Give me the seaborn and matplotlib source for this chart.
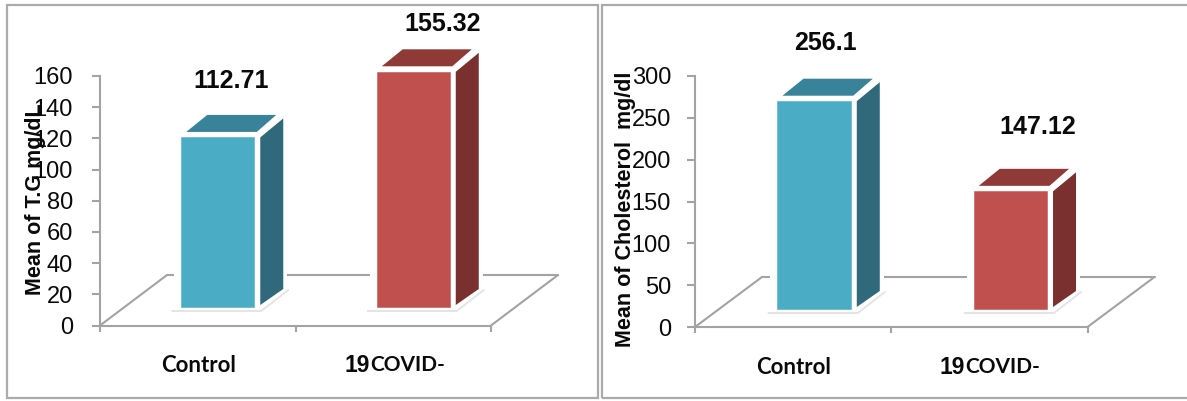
import matplotlib
matplotlib.use("Agg")
import matplotlib.pyplot as plt
import pandas as pd
import seaborn as sns
from matplotlib.lines import Line2D
from matplotlib.patches import Polygon, Rectangle
from matplotlib.transforms import IdentityTransform

WIDTH, HEIGHT = 1187, 401

groups = ["Control", "19COVID-"]
tg_values = [112.71, 155.32]
chol_values = [256.1, 147.12]
tg_ticks = [0, 20, 40, 60, 80, 100, 120, 140, 160]
chol_ticks = [0, 50, 100, 150, 200, 250, 300]
tg_title = "Mean of T.G mg/dL"
chol_title = "Mean of Cholesterol  mg/dl"

FRONT = ["#4BACC6", "#C0504D"]
SIDE = ["#31697C", "#7A302E"]
TOP = ["#38839A", "#8F3A37"]
GREY = "#A3A3A3"
INK = "#0A0A0A"

sns.set_theme(style="white")
plt.rcParams["font.family"] = ["Liberation Sans", "DejaVu Sans"]

fig = plt.figure(figsize=(WIDTH / 100, HEIGHT / 100), dpi=100, facecolor="white")


def fx(x):
    return x / WIDTH


def fy(y):
    return 1 - y / HEIGHT


def box(left, right, top, bottom):
    return [fx(left), fy(bottom), fx(right - left), fy(top) - fy(bottom)]


def floor_line(x0, y0, x1, y1):
    fig.add_artist(Line2D([fx(x0), fx(x1)], [fy(y0), fy(y1)], color=GREY, lw=1.5,
                          transform=fig.transFigure, zorder=1))


def panel(values, ticks, title, left, right, y_zero, y_top, back_dx, back_y,
          px_per_unit, bar_shift, bar_base, title_x, title_y, label_offsets,
          cat_y, cat_x, tick_pad):
    # Axis frame: value scale on the left, category dividers along the bottom.
    ax = fig.add_axes(box(left, right, y_top, y_zero), facecolor="none", zorder=2)
    ax.set_xlim(-0.5, 1.5)
    ax.set_ylim(ticks[0], ticks[-1])
    ax.set_yticks(ticks)
    ax.set_xticks([-0.5, 0.5, 1.5])
    ax.set_xticklabels([])
    ax.tick_params(axis="y", direction="out", length=5.8, width=1.5, color=GREY,
                   labelsize=17, labelcolor=INK, pad=tick_pad, left=True)
    ax.tick_params(axis="x", direction="out", length=4.3, width=1.5, color=GREY, bottom=True)
    for name in ("top", "right"):
        ax.spines[name].set_visible(False)
    for name in ("left", "bottom"):
        ax.spines[name].set_color(GREY)
        ax.spines[name].set_linewidth(1.5)

    # Floor of the chart, drawn as a receding parallelogram.
    floor_line(left, y_zero, left + back_dx, back_y)
    floor_line(left + back_dx, back_y, right + back_dx, back_y)
    floor_line(right + back_dx, back_y, right, y_zero)

    # Front faces come from a barplot sitting on the floor.
    bar_ax = fig.add_axes(box(left + bar_shift, right + bar_shift, 20, bar_base),
                          facecolor="none", zorder=3)
    df = pd.DataFrame({"group": groups, "value": values})
    sns.barplot(data=df, x="group", y="value", hue="group", palette=FRONT, legend=False,
                width=0.394, edgecolor="white", linewidth=2.5, saturation=1, ax=bar_ax)
    bar_ax.set_xlim(-0.5, 1.5)
    bar_ax.set_ylim(0, (bar_base - 20) / px_per_unit)
    bar_ax.axis("off")

    fig.canvas.draw()
    for i, patch in enumerate(list(bar_ax.patches)):
        (x0, y0), (x1, y1) = bar_ax.transData.transform(
            [(patch.get_x(), 0), (patch.get_x() + patch.get_width(), patch.get_height())])
        extras = dict(transform=IdentityTransform(), clip_on=False)
        # White halo that breaks the back edge of the floor behind each bar.
        bar_ax.add_patch(Polygon(
            [(x0 - 5, y0 + 27), (x1 + 31, y0 + 27), (x1 + 31, y0 + 40), (x0 - 5, y0 + 40)],
            facecolor="white", edgecolor="none", zorder=1, **extras))
        # Pale shadow strip on the floor beside each bar.
        bar_ax.add_patch(Polygon(
            [(x0 - 7, y0 - 2), (x1 + 5, y0 - 2), (x1 + 32, y0 + 19), (x1 + 6, y0 + 19), (x0 - 7, y0 + 19)],
            facecolor="white", edgecolor="none", zorder=1, **extras))
        bar_ax.add_line(Line2D([x0 - 7, x1 + 5, x1 + 32], [y0 - 2, y0 - 2, y0 + 19],
                               color="#E4E4E4", lw=1.4, zorder=1.5, **extras))
        # Right side face.
        bar_ax.add_patch(Polygon(
            [(x1 + 4, y0 + 4), (x1 + 27, y0 + 20), (x1 + 27, y1 + 17), (x1 + 4, y1 - 2)],
            facecolor=SIDE[i], edgecolor="none", zorder=2, **extras))
        # Top face.
        bar_ax.add_patch(Polygon(
            [(x0 + 7, y1 + 3.5), (x1 + 0.5, y1 + 3.5), (x1 + 20, y1 + 20.5), (x0 + 28, y1 + 20.5)],
            facecolor=TOP[i], edgecolor="none", zorder=2, **extras))
        patch.set_zorder(3)

        bar_ax.annotate(f"{values[i]}", xy=(i, values[i]), xytext=label_offsets[i],
                        textcoords="offset pixels", ha="center", va="center",
                        fontsize=18, fontweight="bold", color=INK, annotation_clip=False)

    # Rotated axis title, overlapping the tick labels as laid out on the page.
    fig.text(fx(title_x), fy(title_y), title, rotation=90, ha="center", va="center",
             fontsize=15.5, fontweight="bold", color=INK, zorder=5)

    # Category names: capitals in a humanist face, digits in the page font.
    fig.text(fx(cat_x[0]), fy(cat_y), groups[0], ha="center", va="center",
             fontsize=16, fontweight="bold", family="Lato", color=INK)
    split = cat_x[1]
    fig.text(fx(split), fy(cat_y), groups[1][:2], ha="right", va="center",
             fontsize=16.5, fontweight="bold", color=INK)
    fig.text(fx(split), fy(cat_y), groups[1][2:], ha="left", va="center",
             fontsize=15, fontweight="bold", family="Lato", color=INK)


panel(tg_values, tg_ticks, tg_title, left=100, right=491, y_zero=325.5, y_top=76,
      back_dx=67, back_y=275, px_per_unit=1.54, bar_shift=20, bar_base=309,
      title_x=36, title_y=199, label_offsets=[(13, 54), (29, 46)], cat_y=365,
      cat_x=(199, 370), tick_pad=13.7)
panel(chol_values, chol_ticks, chol_title, left=695, right=1087.5, y_zero=327, y_top=76,
      back_dx=67, back_y=277, px_per_unit=0.827, bar_shift=21, bar_base=311,
      title_x=625, title_y=209, label_offsets=[(11, 56), (27, 62)], cat_y=367,
      cat_x=(794, 965), tick_pad=11.5)

# Panel frames around the two charts.
for (x, y, w, h) in [(7, 5, 591, 393), (601.5, 5, 590, 393)]:
    fig.add_artist(Rectangle((fx(x), fy(y + h)), fx(w), h / HEIGHT, transform=fig.transFigure,
                             facecolor="none", edgecolor="#ABABAB", lw=1.6, zorder=0))

fig.savefig("out.png", dpi=100, facecolor="white")
